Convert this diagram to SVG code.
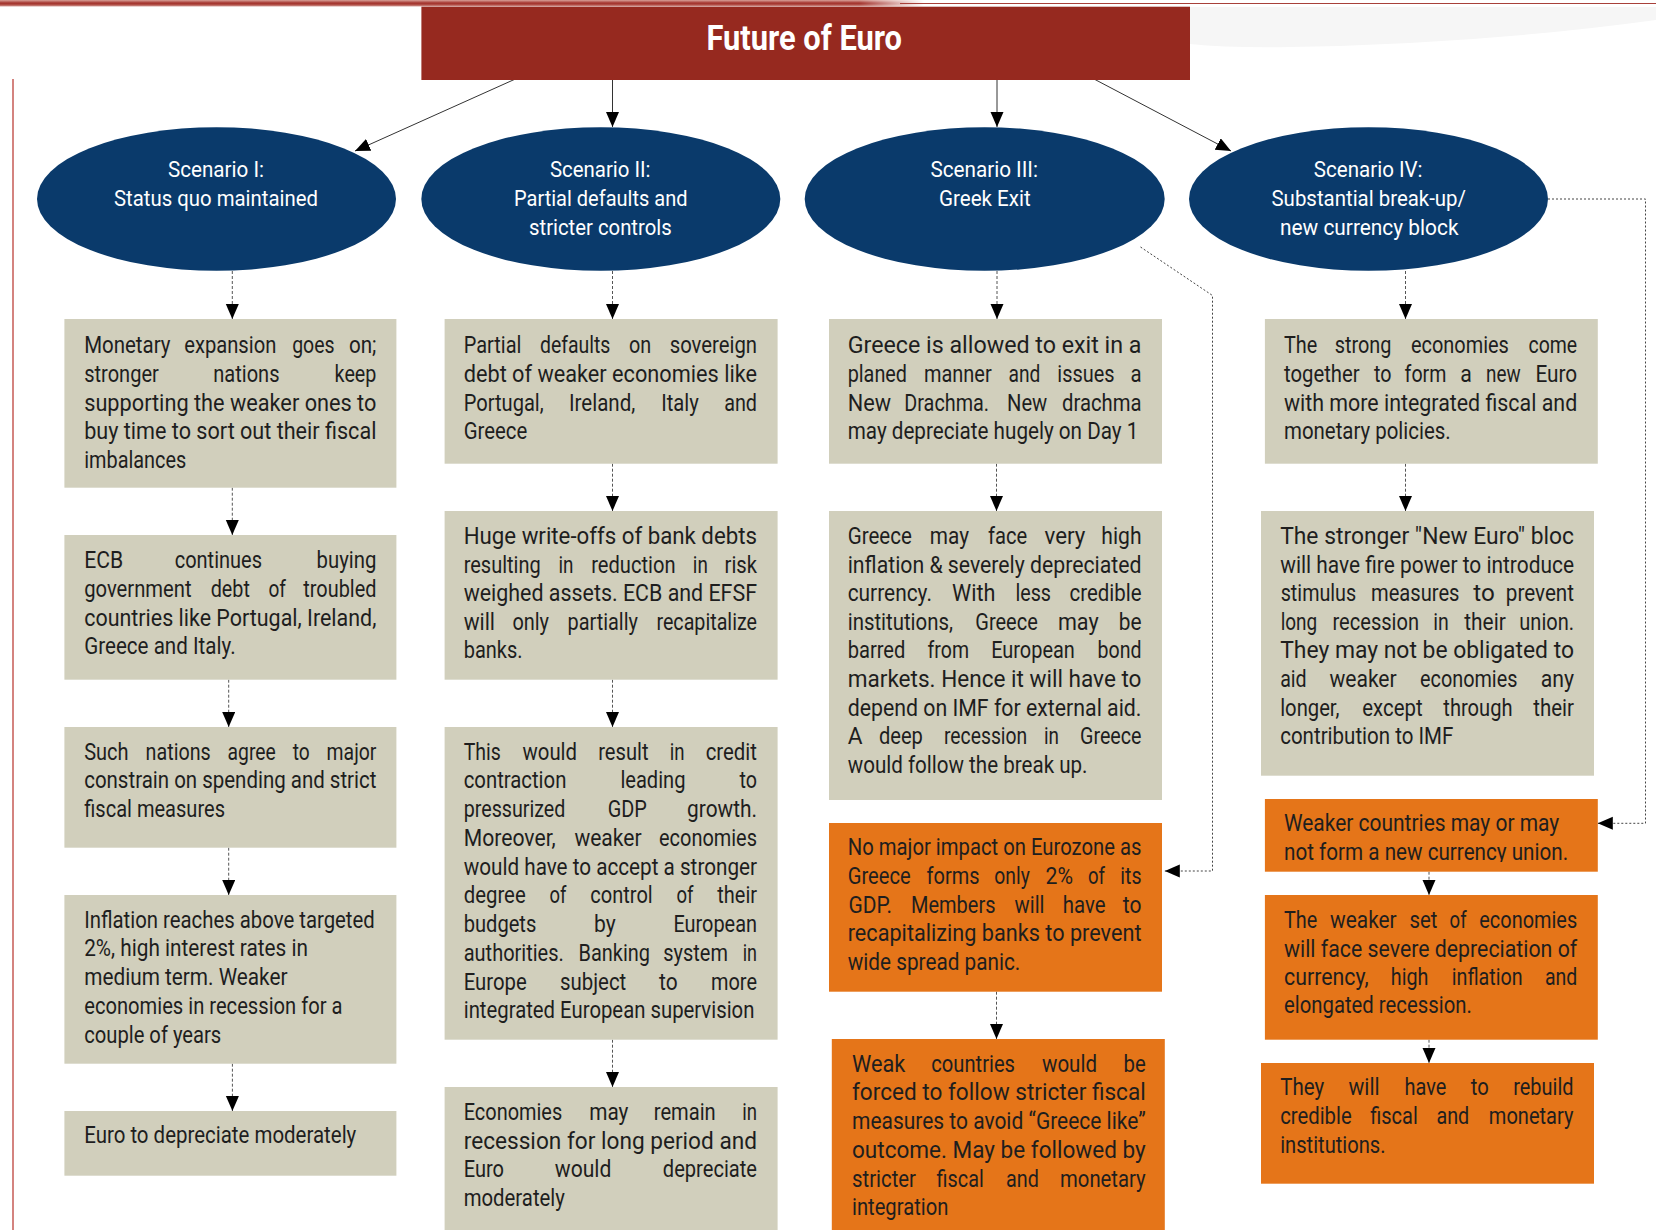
<svg xmlns="http://www.w3.org/2000/svg" width="1656" height="1230" viewBox="0 0 1656 1230">
<defs>
<style>
.bg{fill:#d1cfbc}
.bo{fill:#e57519}
.el{fill:#0a3a6b}
.tx{font-family:Roboto,"Liberation Sans",Arial,sans-serif;font-size:23.5px;fill:#1e1e1e}
.et{font-family:Roboto,"Liberation Sans",Arial,sans-serif;font-size:22px;fill:#ffffff}
.ti{font-family:Roboto,"Liberation Sans",Arial,sans-serif;font-size:35px;font-weight:bold;fill:#ffffff}
.solid{fill:none;stroke:#333;stroke-width:1}
.dash{fill:none;stroke:#555;stroke-width:1;stroke-dasharray:3 2}
.dot{fill:none;stroke:#444;stroke-width:1;stroke-dasharray:2 2}
</style>
<marker id="ah" markerUnits="userSpaceOnUse" markerWidth="16" markerHeight="14" refX="15" refY="6.5" orient="auto">
<path d="M0,0 L15,6.5 L0,13 Z" fill="#000"/>
</marker>
<linearGradient id="topbar" x1="0" y1="0" x2="0" y2="1">
<stop offset="0" stop-color="#d8a098"/>
<stop offset="0.45" stop-color="#a2302a"/>
<stop offset="0.75" stop-color="#b65a52"/>
<stop offset="1" stop-color="#ffffff"/>
</linearGradient>
<linearGradient id="barfade" x1="0" y1="0" x2="1" y2="0">
<stop offset="0" stop-color="#fff" stop-opacity="1"/>
<stop offset="0.93" stop-color="#fff" stop-opacity="1"/>
<stop offset="1" stop-color="#fff" stop-opacity="0"/>
</linearGradient>
<mask id="barmask"><rect x="0" y="0" width="924" height="8" fill="url(#barfade)"/></mask>
<clipPath id="clipB4c"><rect x="1265" y="800" width="333" height="62"/></clipPath>
</defs>

<!-- page decoration -->
<rect x="0" y="0" width="1656" height="1230" fill="#ffffff"/>
<path d="M1190,7 L1656,7 L1656,20 Q1480,44 1290,47 Q1230,48 1190,44 Z" fill="#f6f6f6"/>
<rect x="0" y="0" width="924" height="7" fill="url(#topbar)" mask="url(#barmask)"/>
<line x1="900" y1="3.5" x2="1656" y2="3.5" stroke="#a8403a" stroke-width="1.2"/>
<line x1="13" y1="79" x2="13" y2="1230" stroke="#c65a55" stroke-width="1.5"/>

<!-- connectors -->
<g id="connectors">
<path class="solid" d="M515.4,79 L355,151" marker-end="url(#ah)"/>
<path class="solid" d="M612.5,79 L612.5,127" marker-end="url(#ah)"/>
<path class="solid" d="M997,79 L997,127" marker-end="url(#ah)"/>
<path class="solid" d="M1094,79 L1231,151" marker-end="url(#ah)"/>
<path class="dash" d="M232.3,271 L232.3,319" marker-end="url(#ah)"/>
<path class="dash" d="M612.5,271 L612.5,319" marker-end="url(#ah)"/>
<path class="dash" d="M997,271 L997,319" marker-end="url(#ah)"/>
<path class="dash" d="M1405.5,271 L1405.5,319" marker-end="url(#ah)"/>
<path class="dash" d="M232.3,487.7 L232.3,535" marker-end="url(#ah)"/>
<path class="dash" d="M228.7,679.7 L228.7,727" marker-end="url(#ah)"/>
<path class="dash" d="M228.7,847.7 L228.7,895" marker-end="url(#ah)"/>
<path class="dash" d="M232.4,1063.7 L232.4,1111" marker-end="url(#ah)"/>
<path class="dash" d="M612.5,463.7 L612.5,511" marker-end="url(#ah)"/>
<path class="dash" d="M612.5,679.7 L612.5,727" marker-end="url(#ah)"/>
<path class="dash" d="M612.5,1039.7 L612.5,1087" marker-end="url(#ah)"/>
<path class="dash" d="M996.5,463.7 L996.5,511" marker-end="url(#ah)"/>
<path class="dash" d="M996.5,991.7 L996.5,1039" marker-end="url(#ah)"/>
<path class="dash" d="M1405.5,463.7 L1405.5,511" marker-end="url(#ah)"/>
<path class="dash" d="M1429,871.7 L1429,895" marker-end="url(#ah)"/>
<path class="dash" d="M1429,1039.7 L1429,1063" marker-end="url(#ah)"/>
<path class="dot" d="M1140.5,247 L1212.5,295.5 L1212.5,871 L1164.8,871" marker-end="url(#ah)"/>
<path class="dot" d="M1548,199 L1645.5,199 L1645.5,823.3 L1597.8,823.3" marker-end="url(#ah)"/>
</g>

<!-- title -->
<g id="title">
<rect x="421.4" y="6.7" width="768.6" height="73.3" fill="#96291f"/>
<text class="ti" x="706.4" y="50" textLength="195.6" lengthAdjust="spacingAndGlyphs">Future of Euro</text>
</g>

<!-- scenarios -->
<g id="scenario1">
<ellipse class="el" cx="216.5" cy="199" rx="179.5" ry="71.8"/>
<text class="et" x="168" y="177" textLength="96" lengthAdjust="spacingAndGlyphs">Scenario I:</text>
<text class="et" x="114" y="206" textLength="204" lengthAdjust="spacingAndGlyphs">Status quo maintained</text>
</g>
<g id="scenario2">
<ellipse class="el" cx="600.8" cy="199" rx="179.5" ry="71.8"/>
<text class="et" x="550" y="177" textLength="100.5" lengthAdjust="spacingAndGlyphs">Scenario II:</text>
<text class="et" x="514" y="206" textLength="173.5" lengthAdjust="spacingAndGlyphs">Partial defaults and</text>
<text class="et" x="529" y="235" textLength="142.7" lengthAdjust="spacingAndGlyphs">stricter controls</text>
</g>
<g id="scenario3">
<ellipse class="el" cx="984.7" cy="199" rx="180" ry="71.8"/>
<text class="et" x="930.4" y="177" textLength="107.6" lengthAdjust="spacingAndGlyphs">Scenario III:</text>
<text class="et" x="939" y="206" textLength="91.7" lengthAdjust="spacingAndGlyphs">Greek Exit</text>
</g>
<g id="scenario4">
<ellipse class="el" cx="1368.5" cy="199" rx="179.5" ry="71.8"/>
<text class="et" x="1313.8" y="177" textLength="108.8" lengthAdjust="spacingAndGlyphs">Scenario IV:</text>
<text class="et" x="1271.5" y="206" textLength="194.5" lengthAdjust="spacingAndGlyphs">Substantial break-up/</text>
<text class="et" x="1280" y="235" textLength="178.5" lengthAdjust="spacingAndGlyphs">new currency block</text>
</g>

<!-- column 1 -->
<g id="s1-step1">
<rect class="bg" x="64.4" y="319" width="332" height="168.7"/>
<text class="tx" x="84.2" y="353.3" textLength="86.3" lengthAdjust="spacingAndGlyphs">Monetary</text>
<text class="tx" x="184.2" y="353.3" textLength="92.1" lengthAdjust="spacingAndGlyphs">expansion</text>
<text class="tx" x="292.2" y="353.3" textLength="42.4" lengthAdjust="spacingAndGlyphs">goes</text>
<text class="tx" x="348.9" y="353.3" textLength="27.5" lengthAdjust="spacingAndGlyphs">on;</text>
<text class="tx" x="84.2" y="382" textLength="74.6" lengthAdjust="spacingAndGlyphs">stronger</text>
<text class="tx" x="213.3" y="382" textLength="66.2" lengthAdjust="spacingAndGlyphs">nations</text>
<text class="tx" x="334.6" y="382" textLength="41.8" lengthAdjust="spacingAndGlyphs">keep</text>
<text class="tx" x="84.2" y="410.6" textLength="292.2" lengthAdjust="spacingAndGlyphs">supporting the weaker ones to</text>
<text class="tx" x="84.2" y="439.2" textLength="292.2" lengthAdjust="spacingAndGlyphs">buy time to sort out their fiscal</text>
<text class="tx" x="84.2" y="467.8" textLength="102.1" lengthAdjust="spacingAndGlyphs">imbalances</text>
</g>
<g id="s1-step2">
<rect class="bg" x="64.4" y="535" width="332" height="144.7"/>
<text class="tx" x="84.2" y="568.3" textLength="39" lengthAdjust="spacingAndGlyphs">ECB</text>
<text class="tx" x="174.7" y="568.3" textLength="87.3" lengthAdjust="spacingAndGlyphs">continues</text>
<text class="tx" x="316.6" y="568.3" textLength="59.8" lengthAdjust="spacingAndGlyphs">buying</text>
<text class="tx" x="84.2" y="596.9" textLength="107.4" lengthAdjust="spacingAndGlyphs">government</text>
<text class="tx" x="210.7" y="596.9" textLength="39.2" lengthAdjust="spacingAndGlyphs">debt</text>
<text class="tx" x="268.4" y="596.9" textLength="17.5" lengthAdjust="spacingAndGlyphs">of</text>
<text class="tx" x="303.3" y="596.9" textLength="73.1" lengthAdjust="spacingAndGlyphs">troubled</text>
<text class="tx" x="84.2" y="625.5" textLength="292.2" lengthAdjust="spacingAndGlyphs">countries like Portugal, Ireland,</text>
<text class="tx" x="84.2" y="654.1" textLength="151.4" lengthAdjust="spacingAndGlyphs">Greece and Italy.</text>
</g>
<g id="s1-step3">
<rect class="bg" x="64.4" y="727" width="332" height="120.7"/>
<text class="tx" x="84.2" y="759.5" textLength="44.4" lengthAdjust="spacingAndGlyphs">Such</text>
<text class="tx" x="145.6" y="759.5" textLength="65.1" lengthAdjust="spacingAndGlyphs">nations</text>
<text class="tx" x="227.6" y="759.5" textLength="48.2" lengthAdjust="spacingAndGlyphs">agree</text>
<text class="tx" x="292.7" y="759.5" textLength="17" lengthAdjust="spacingAndGlyphs">to</text>
<text class="tx" x="326.6" y="759.5" textLength="49.8" lengthAdjust="spacingAndGlyphs">major</text>
<text class="tx" x="84.2" y="788.1" textLength="292.2" lengthAdjust="spacingAndGlyphs">constrain on spending and strict</text>
<text class="tx" x="84.2" y="816.7" textLength="140.8" lengthAdjust="spacingAndGlyphs">fiscal measures</text>
</g>
<g id="s1-step4">
<rect class="bg" x="64.4" y="895" width="332" height="168.7"/>
<text class="tx" x="84.2" y="927.7" textLength="290.6" lengthAdjust="spacingAndGlyphs">Inflation reaches above targeted</text>
<text class="tx" x="84.2" y="956.4" textLength="223.8" lengthAdjust="spacingAndGlyphs">2%, high interest rates in</text>
<text class="tx" x="84.2" y="985.2" textLength="203.3" lengthAdjust="spacingAndGlyphs">medium term. Weaker</text>
<text class="tx" x="84.2" y="1013.9" textLength="258.3" lengthAdjust="spacingAndGlyphs">economies in recession for a</text>
<text class="tx" x="84.2" y="1042.7" textLength="137.1" lengthAdjust="spacingAndGlyphs">couple of years</text>
</g>
<g id="s1-step5">
<rect class="bg" x="64.4" y="1111" width="332" height="64.7"/>
<text class="tx" x="84.2" y="1143.3" textLength="272.1" lengthAdjust="spacingAndGlyphs">Euro to depreciate moderately</text>
</g>

<!-- column 2 -->
<g id="s2-step1">
<rect class="bg" x="444.6" y="319" width="333" height="144.7"/>
<text class="tx" x="463.7" y="353.3" textLength="57.7" lengthAdjust="spacingAndGlyphs">Partial</text>
<text class="tx" x="540" y="353.3" textLength="70.4" lengthAdjust="spacingAndGlyphs">defaults</text>
<text class="tx" x="628.9" y="353.3" textLength="22.2" lengthAdjust="spacingAndGlyphs">on</text>
<text class="tx" x="669.7" y="353.3" textLength="87.3" lengthAdjust="spacingAndGlyphs">sovereign</text>
<text class="tx" x="463.7" y="381.9" textLength="293.3" lengthAdjust="spacingAndGlyphs">debt of weaker economies like</text>
<text class="tx" x="463.7" y="410.5" textLength="80" lengthAdjust="spacingAndGlyphs">Portugal,</text>
<text class="tx" x="569" y="410.5" textLength="66.3" lengthAdjust="spacingAndGlyphs">Ireland,</text>
<text class="tx" x="661.2" y="410.5" textLength="37.6" lengthAdjust="spacingAndGlyphs">Italy</text>
<text class="tx" x="724.2" y="410.5" textLength="32.8" lengthAdjust="spacingAndGlyphs">and</text>
<text class="tx" x="463.7" y="439.1" textLength="63.6" lengthAdjust="spacingAndGlyphs">Greece</text>
</g>
<g id="s2-step2">
<rect class="bg" x="444.6" y="511" width="333" height="168.7"/>
<text class="tx" x="463.7" y="544" textLength="293.3" lengthAdjust="spacingAndGlyphs">Huge write-offs of bank debts</text>
<text class="tx" x="463.7" y="572.6" textLength="77" lengthAdjust="spacingAndGlyphs">resulting</text>
<text class="tx" x="558.5" y="572.6" textLength="15" lengthAdjust="spacingAndGlyphs">in</text>
<text class="tx" x="591.2" y="572.6" textLength="84.3" lengthAdjust="spacingAndGlyphs">reduction</text>
<text class="tx" x="692.8" y="572.6" textLength="15" lengthAdjust="spacingAndGlyphs">in</text>
<text class="tx" x="724.6" y="572.6" textLength="32.4" lengthAdjust="spacingAndGlyphs">risk</text>
<text class="tx" x="463.7" y="601.2" textLength="293.3" lengthAdjust="spacingAndGlyphs">weighed assets. ECB and EFSF</text>
<text class="tx" x="463.7" y="629.8" textLength="31.3" lengthAdjust="spacingAndGlyphs">will</text>
<text class="tx" x="512.4" y="629.8" textLength="36.6" lengthAdjust="spacingAndGlyphs">only</text>
<text class="tx" x="567.5" y="629.8" textLength="70.4" lengthAdjust="spacingAndGlyphs">partially</text>
<text class="tx" x="656.4" y="629.8" textLength="100.6" lengthAdjust="spacingAndGlyphs">recapitalize</text>
<text class="tx" x="463.7" y="658.4" textLength="58.8" lengthAdjust="spacingAndGlyphs">banks.</text>
</g>
<g id="s2-step3">
<rect class="bg" x="444.6" y="727" width="333" height="312.7"/>
<text class="tx" x="463.7" y="759.5" textLength="37.1" lengthAdjust="spacingAndGlyphs">This</text>
<text class="tx" x="522.5" y="759.5" textLength="54.5" lengthAdjust="spacingAndGlyphs">would</text>
<text class="tx" x="598.2" y="759.5" textLength="50.3" lengthAdjust="spacingAndGlyphs">result</text>
<text class="tx" x="669.7" y="759.5" textLength="14.8" lengthAdjust="spacingAndGlyphs">in</text>
<text class="tx" x="705.7" y="759.5" textLength="51.3" lengthAdjust="spacingAndGlyphs">credit</text>
<text class="tx" x="463.7" y="788.25" textLength="102.7" lengthAdjust="spacingAndGlyphs">contraction</text>
<text class="tx" x="620.4" y="788.25" textLength="65.1" lengthAdjust="spacingAndGlyphs">leading</text>
<text class="tx" x="739.5" y="788.25" textLength="17.5" lengthAdjust="spacingAndGlyphs">to</text>
<text class="tx" x="463.7" y="817" textLength="101.7" lengthAdjust="spacingAndGlyphs">pressurized</text>
<text class="tx" x="607.7" y="817" textLength="39.2" lengthAdjust="spacingAndGlyphs">GDP</text>
<text class="tx" x="687.1" y="817" textLength="69.9" lengthAdjust="spacingAndGlyphs">growth.</text>
<text class="tx" x="463.7" y="845.75" textLength="92.1" lengthAdjust="spacingAndGlyphs">Moreover,</text>
<text class="tx" x="574.4" y="845.75" textLength="67.2" lengthAdjust="spacingAndGlyphs">weaker</text>
<text class="tx" x="659" y="845.75" textLength="98" lengthAdjust="spacingAndGlyphs">economies</text>
<text class="tx" x="463.7" y="874.5" textLength="293.3" lengthAdjust="spacingAndGlyphs">would have to accept a stronger</text>
<text class="tx" x="463.7" y="903.25" textLength="62" lengthAdjust="spacingAndGlyphs">degree</text>
<text class="tx" x="549.5" y="903.25" textLength="16.9" lengthAdjust="spacingAndGlyphs">of</text>
<text class="tx" x="590.3" y="903.25" textLength="62.4" lengthAdjust="spacingAndGlyphs">control</text>
<text class="tx" x="676.5" y="903.25" textLength="17" lengthAdjust="spacingAndGlyphs">of</text>
<text class="tx" x="717.3" y="903.25" textLength="39.7" lengthAdjust="spacingAndGlyphs">their</text>
<text class="tx" x="463.7" y="932" textLength="72.6" lengthAdjust="spacingAndGlyphs">budgets</text>
<text class="tx" x="594" y="932" textLength="21.7" lengthAdjust="spacingAndGlyphs">by</text>
<text class="tx" x="673.4" y="932" textLength="83.6" lengthAdjust="spacingAndGlyphs">European</text>
<text class="tx" x="463.7" y="960.75" textLength="100.1" lengthAdjust="spacingAndGlyphs">authorities.</text>
<text class="tx" x="578.6" y="960.75" textLength="71.4" lengthAdjust="spacingAndGlyphs">Banking</text>
<text class="tx" x="663.3" y="960.75" textLength="64.6" lengthAdjust="spacingAndGlyphs">system</text>
<text class="tx" x="742.7" y="960.75" textLength="14.3" lengthAdjust="spacingAndGlyphs">in</text>
<text class="tx" x="463.7" y="989.5" textLength="63" lengthAdjust="spacingAndGlyphs">Europe</text>
<text class="tx" x="560" y="989.5" textLength="66.3" lengthAdjust="spacingAndGlyphs">subject</text>
<text class="tx" x="659" y="989.5" textLength="18.6" lengthAdjust="spacingAndGlyphs">to</text>
<text class="tx" x="711" y="989.5" textLength="46" lengthAdjust="spacingAndGlyphs">more</text>
<text class="tx" x="463.7" y="1018.25" textLength="290.7" lengthAdjust="spacingAndGlyphs">integrated European supervision</text>
</g>
<g id="s2-step4">
<rect class="bg" x="444.6" y="1087" width="333" height="143"/>
<text class="tx" x="463.7" y="1120" textLength="98.5" lengthAdjust="spacingAndGlyphs">Economies</text>
<text class="tx" x="589.2" y="1120" textLength="39.2" lengthAdjust="spacingAndGlyphs">may</text>
<text class="tx" x="653.8" y="1120" textLength="61.9" lengthAdjust="spacingAndGlyphs">remain</text>
<text class="tx" x="742.2" y="1120" textLength="14.8" lengthAdjust="spacingAndGlyphs">in</text>
<text class="tx" x="463.7" y="1148.7" textLength="293.3" lengthAdjust="spacingAndGlyphs">recession for long period and</text>
<text class="tx" x="463.7" y="1177.4" textLength="40.3" lengthAdjust="spacingAndGlyphs">Euro</text>
<text class="tx" x="554.8" y="1177.4" textLength="56.6" lengthAdjust="spacingAndGlyphs">would</text>
<text class="tx" x="662.8" y="1177.4" textLength="94.2" lengthAdjust="spacingAndGlyphs">depreciate</text>
<text class="tx" x="463.7" y="1206.1" textLength="101.2" lengthAdjust="spacingAndGlyphs">moderately</text>
</g>

<!-- column 3 -->
<g id="s3-step1">
<rect class="bg" x="829" y="319" width="333" height="144.7"/>
<text class="tx" x="847.7" y="353.3" textLength="293.8" lengthAdjust="spacingAndGlyphs">Greece is allowed to exit in a</text>
<text class="tx" x="847.7" y="381.9" textLength="59.3" lengthAdjust="spacingAndGlyphs">planed</text>
<text class="tx" x="924" y="381.9" textLength="67.7" lengthAdjust="spacingAndGlyphs">manner</text>
<text class="tx" x="1008.6" y="381.9" textLength="31.8" lengthAdjust="spacingAndGlyphs">and</text>
<text class="tx" x="1057.3" y="381.9" textLength="57.2" lengthAdjust="spacingAndGlyphs">issues</text>
<text class="tx" x="1130.4" y="381.9" textLength="11.1" lengthAdjust="spacingAndGlyphs">a</text>
<text class="tx" x="847.7" y="410.5" textLength="43.3" lengthAdjust="spacingAndGlyphs">New</text>
<text class="tx" x="904.3" y="410.5" textLength="84.7" lengthAdjust="spacingAndGlyphs">Drachma.</text>
<text class="tx" x="1007" y="410.5" textLength="40.3" lengthAdjust="spacingAndGlyphs">New</text>
<text class="tx" x="1062" y="410.5" textLength="79.5" lengthAdjust="spacingAndGlyphs">drachma</text>
<text class="tx" x="847.7" y="439.1" textLength="290.6" lengthAdjust="spacingAndGlyphs">may depreciate hugely on Day 1</text>
</g>
<g id="s3-step2">
<rect class="bg" x="829" y="511" width="333" height="289"/>
<text class="tx" x="847.7" y="544" textLength="64.1" lengthAdjust="spacingAndGlyphs">Greece</text>
<text class="tx" x="929.8" y="544" textLength="39.2" lengthAdjust="spacingAndGlyphs">may</text>
<text class="tx" x="988" y="544" textLength="39.2" lengthAdjust="spacingAndGlyphs">face</text>
<text class="tx" x="1044.6" y="544" textLength="40.8" lengthAdjust="spacingAndGlyphs">very</text>
<text class="tx" x="1101.3" y="544" textLength="40.2" lengthAdjust="spacingAndGlyphs">high</text>
<text class="tx" x="847.7" y="572.6" textLength="293.8" lengthAdjust="spacingAndGlyphs">inflation &amp; severely depreciated</text>
<text class="tx" x="847.7" y="601.2" textLength="84.2" lengthAdjust="spacingAndGlyphs">currency.</text>
<text class="tx" x="952" y="601.2" textLength="43.4" lengthAdjust="spacingAndGlyphs">With</text>
<text class="tx" x="1015.5" y="601.2" textLength="35.5" lengthAdjust="spacingAndGlyphs">less</text>
<text class="tx" x="1069.5" y="601.2" textLength="72" lengthAdjust="spacingAndGlyphs">credible</text>
<text class="tx" x="847.7" y="629.8" textLength="105.3" lengthAdjust="spacingAndGlyphs">institutions,</text>
<text class="tx" x="975.3" y="629.8" textLength="62.5" lengthAdjust="spacingAndGlyphs">Greece</text>
<text class="tx" x="1057.9" y="629.8" textLength="40.7" lengthAdjust="spacingAndGlyphs">may</text>
<text class="tx" x="1118.7" y="629.8" textLength="22.8" lengthAdjust="spacingAndGlyphs">be</text>
<text class="tx" x="847.7" y="658.4" textLength="57.7" lengthAdjust="spacingAndGlyphs">barred</text>
<text class="tx" x="927.6" y="658.4" textLength="41.4" lengthAdjust="spacingAndGlyphs">from</text>
<text class="tx" x="991.2" y="658.4" textLength="83.6" lengthAdjust="spacingAndGlyphs">European</text>
<text class="tx" x="1097.6" y="658.4" textLength="43.9" lengthAdjust="spacingAndGlyphs">bond</text>
<text class="tx" x="847.7" y="687" textLength="293.8" lengthAdjust="spacingAndGlyphs">markets. Hence it will have to</text>
<text class="tx" x="847.7" y="715.6" textLength="293.8" lengthAdjust="spacingAndGlyphs">depend on IMF for external aid.</text>
<text class="tx" x="847.7" y="744.2" textLength="14.8" lengthAdjust="spacingAndGlyphs">A</text>
<text class="tx" x="879" y="744.2" textLength="43.9" lengthAdjust="spacingAndGlyphs">deep</text>
<text class="tx" x="944" y="744.2" textLength="83.2" lengthAdjust="spacingAndGlyphs">recession</text>
<text class="tx" x="1044" y="744.2" textLength="15" lengthAdjust="spacingAndGlyphs">in</text>
<text class="tx" x="1080" y="744.2" textLength="61.5" lengthAdjust="spacingAndGlyphs">Greece</text>
<text class="tx" x="847.7" y="772.8" textLength="239.8" lengthAdjust="spacingAndGlyphs">would follow the break up.</text>
</g>
<g id="s3-step3">
<rect class="bo" x="829" y="823" width="333" height="168.7"/>
<text class="tx" x="847.7" y="855" textLength="293.8" lengthAdjust="spacingAndGlyphs">No major impact on Eurozone as</text>
<text class="tx" x="847.7" y="883.75" textLength="63" lengthAdjust="spacingAndGlyphs">Greece</text>
<text class="tx" x="926.6" y="883.75" textLength="52.9" lengthAdjust="spacingAndGlyphs">forms</text>
<text class="tx" x="994.3" y="883.75" textLength="35.5" lengthAdjust="spacingAndGlyphs">only</text>
<text class="tx" x="1045.5" y="883.75" textLength="27.5" lengthAdjust="spacingAndGlyphs">2%</text>
<text class="tx" x="1088" y="883.75" textLength="17" lengthAdjust="spacingAndGlyphs">of</text>
<text class="tx" x="1120.3" y="883.75" textLength="21.2" lengthAdjust="spacingAndGlyphs">its</text>
<text class="tx" x="848.5" y="912.5" textLength="43.5" lengthAdjust="spacingAndGlyphs">GDP.</text>
<text class="tx" x="911" y="912.5" textLength="84.5" lengthAdjust="spacingAndGlyphs">Members</text>
<text class="tx" x="1014.5" y="912.5" textLength="30" lengthAdjust="spacingAndGlyphs">will</text>
<text class="tx" x="1062.8" y="912.5" textLength="42.8" lengthAdjust="spacingAndGlyphs">have</text>
<text class="tx" x="1122.8" y="912.5" textLength="18.7" lengthAdjust="spacingAndGlyphs">to</text>
<text class="tx" x="847.7" y="941.25" textLength="293.8" lengthAdjust="spacingAndGlyphs">recapitalizing banks to prevent</text>
<text class="tx" x="847.7" y="970" textLength="172.6" lengthAdjust="spacingAndGlyphs">wide spread panic.</text>
</g>
<g id="s3-step4">
<rect class="bo" x="831.8" y="1039" width="333" height="191"/>
<text class="tx" x="852" y="1071.7" textLength="53.4" lengthAdjust="spacingAndGlyphs">Weak</text>
<text class="tx" x="931.3" y="1071.7" textLength="83.7" lengthAdjust="spacingAndGlyphs">countries</text>
<text class="tx" x="1042" y="1071.7" textLength="55" lengthAdjust="spacingAndGlyphs">would</text>
<text class="tx" x="1123.5" y="1071.7" textLength="22.2" lengthAdjust="spacingAndGlyphs">be</text>
<text class="tx" x="852" y="1100.4" textLength="293.7" lengthAdjust="spacingAndGlyphs">forced to follow stricter fiscal</text>
<text class="tx" x="852" y="1129.1" textLength="293.7" lengthAdjust="spacingAndGlyphs">measures to avoid “Greece like”</text>
<text class="tx" x="852" y="1157.8" textLength="293.7" lengthAdjust="spacingAndGlyphs">outcome. May be followed by</text>
<text class="tx" x="852" y="1186.5" textLength="64" lengthAdjust="spacingAndGlyphs">stricter</text>
<text class="tx" x="936.6" y="1186.5" textLength="47.2" lengthAdjust="spacingAndGlyphs">fiscal</text>
<text class="tx" x="1006" y="1186.5" textLength="32.8" lengthAdjust="spacingAndGlyphs">and</text>
<text class="tx" x="1060" y="1186.5" textLength="85.7" lengthAdjust="spacingAndGlyphs">monetary</text>
<text class="tx" x="852" y="1215.2" textLength="96.3" lengthAdjust="spacingAndGlyphs">integration</text>
</g>

<!-- column 4 -->
<g id="s4-step1">
<rect class="bg" x="1264.9" y="319" width="332.9" height="144.7"/>
<text class="tx" x="1284" y="353.3" textLength="33.3" lengthAdjust="spacingAndGlyphs">The</text>
<text class="tx" x="1334.7" y="353.3" textLength="56.7" lengthAdjust="spacingAndGlyphs">strong</text>
<text class="tx" x="1411" y="353.3" textLength="97.9" lengthAdjust="spacingAndGlyphs">economies</text>
<text class="tx" x="1528.5" y="353.3" textLength="48.7" lengthAdjust="spacingAndGlyphs">come</text>
<text class="tx" x="1284" y="381.9" textLength="75.6" lengthAdjust="spacingAndGlyphs">together</text>
<text class="tx" x="1373.9" y="381.9" textLength="17.5" lengthAdjust="spacingAndGlyphs">to</text>
<text class="tx" x="1404.6" y="381.9" textLength="41.8" lengthAdjust="spacingAndGlyphs">form</text>
<text class="tx" x="1460.2" y="381.9" textLength="11.6" lengthAdjust="spacingAndGlyphs">a</text>
<text class="tx" x="1486" y="381.9" textLength="34.6" lengthAdjust="spacingAndGlyphs">new</text>
<text class="tx" x="1535.4" y="381.9" textLength="41.8" lengthAdjust="spacingAndGlyphs">Euro</text>
<text class="tx" x="1284" y="410.5" textLength="293.2" lengthAdjust="spacingAndGlyphs">with more integrated fiscal and</text>
<text class="tx" x="1284" y="439.1" textLength="166.7" lengthAdjust="spacingAndGlyphs">monetary policies.</text>
</g>
<g id="s4-step2">
<rect class="bg" x="1261" y="511" width="333" height="264.7"/>
<text class="tx" x="1280.2" y="544" textLength="293.8" lengthAdjust="spacingAndGlyphs">The stronger "New Euro" bloc</text>
<text class="tx" x="1280.2" y="572.6" textLength="293.8" lengthAdjust="spacingAndGlyphs">will have fire power to introduce</text>
<text class="tx" x="1280.7" y="601.2" textLength="75.5" lengthAdjust="spacingAndGlyphs">stimulus</text>
<text class="tx" x="1371" y="601.2" textLength="88.5" lengthAdjust="spacingAndGlyphs">measures</text>
<text class="tx" x="1473.3" y="601.2" textLength="21.5" lengthAdjust="spacingAndGlyphs">to</text>
<text class="tx" x="1505.8" y="601.2" textLength="68.2" lengthAdjust="spacingAndGlyphs">prevent</text>
<text class="tx" x="1280.7" y="629.8" textLength="36.5" lengthAdjust="spacingAndGlyphs">long</text>
<text class="tx" x="1332.5" y="629.8" textLength="86.5" lengthAdjust="spacingAndGlyphs">recession</text>
<text class="tx" x="1433.3" y="629.8" textLength="15.5" lengthAdjust="spacingAndGlyphs">in</text>
<text class="tx" x="1464.3" y="629.8" textLength="41.5" lengthAdjust="spacingAndGlyphs">their</text>
<text class="tx" x="1519.3" y="629.8" textLength="54.7" lengthAdjust="spacingAndGlyphs">union.</text>
<text class="tx" x="1280.2" y="658.4" textLength="293.8" lengthAdjust="spacingAndGlyphs">They may not be obligated to</text>
<text class="tx" x="1280.2" y="687" textLength="26.5" lengthAdjust="spacingAndGlyphs">aid</text>
<text class="tx" x="1329.4" y="687" textLength="67.3" lengthAdjust="spacingAndGlyphs">weaker</text>
<text class="tx" x="1420" y="687" textLength="97.4" lengthAdjust="spacingAndGlyphs">economies</text>
<text class="tx" x="1540.7" y="687" textLength="33.3" lengthAdjust="spacingAndGlyphs">any</text>
<text class="tx" x="1280.2" y="715.6" textLength="59.3" lengthAdjust="spacingAndGlyphs">longer,</text>
<text class="tx" x="1362.3" y="715.6" textLength="60.3" lengthAdjust="spacingAndGlyphs">except</text>
<text class="tx" x="1443.3" y="715.6" textLength="69.3" lengthAdjust="spacingAndGlyphs">through</text>
<text class="tx" x="1533.3" y="715.6" textLength="40.7" lengthAdjust="spacingAndGlyphs">their</text>
<text class="tx" x="1280.2" y="744.2" textLength="173.1" lengthAdjust="spacingAndGlyphs">contribution to IMF</text>
</g>
<g id="s4-step3">
<rect class="bo" x="1264.9" y="799" width="332.9" height="72.7"/>
<g clip-path="url(#clipB4c)">
<text class="tx" x="1284" y="830.7" textLength="275.2" lengthAdjust="spacingAndGlyphs">Weaker countries may or may</text>
<text class="tx" x="1284" y="860" textLength="284.2" lengthAdjust="spacingAndGlyphs">not form a new currency union.</text>
</g>
</g>
<g id="s4-step4">
<rect class="bo" x="1264.9" y="895" width="332.9" height="144.7"/>
<text class="tx" x="1284" y="928.3" textLength="33.3" lengthAdjust="spacingAndGlyphs">The</text>
<text class="tx" x="1330" y="928.3" textLength="66.7" lengthAdjust="spacingAndGlyphs">weaker</text>
<text class="tx" x="1409.4" y="928.3" textLength="28" lengthAdjust="spacingAndGlyphs">set</text>
<text class="tx" x="1449.6" y="928.3" textLength="17" lengthAdjust="spacingAndGlyphs">of</text>
<text class="tx" x="1479.3" y="928.3" textLength="97.9" lengthAdjust="spacingAndGlyphs">economies</text>
<text class="tx" x="1284" y="956.6" textLength="293.2" lengthAdjust="spacingAndGlyphs">will face severe depreciation of</text>
<text class="tx" x="1284" y="985" textLength="84.6" lengthAdjust="spacingAndGlyphs">currency,</text>
<text class="tx" x="1390.8" y="985" textLength="37.6" lengthAdjust="spacingAndGlyphs">high</text>
<text class="tx" x="1451.7" y="985" textLength="71" lengthAdjust="spacingAndGlyphs">inflation</text>
<text class="tx" x="1544.9" y="985" textLength="32.3" lengthAdjust="spacingAndGlyphs">and</text>
<text class="tx" x="1284" y="1013.3" textLength="187.8" lengthAdjust="spacingAndGlyphs">elongated recession.</text>
</g>
<g id="s4-step5">
<rect class="bo" x="1261" y="1063" width="333" height="120.7"/>
<text class="tx" x="1280.2" y="1095" textLength="44" lengthAdjust="spacingAndGlyphs">They</text>
<text class="tx" x="1348.5" y="1095" textLength="31.2" lengthAdjust="spacingAndGlyphs">will</text>
<text class="tx" x="1404.6" y="1095" textLength="41.8" lengthAdjust="spacingAndGlyphs">have</text>
<text class="tx" x="1470.8" y="1095" textLength="18" lengthAdjust="spacingAndGlyphs">to</text>
<text class="tx" x="1513.2" y="1095" textLength="60.3" lengthAdjust="spacingAndGlyphs">rebuild</text>
<text class="tx" x="1280.2" y="1124" textLength="71.5" lengthAdjust="spacingAndGlyphs">credible</text>
<text class="tx" x="1370.2" y="1124" textLength="47.6" lengthAdjust="spacingAndGlyphs">fiscal</text>
<text class="tx" x="1436.4" y="1124" textLength="32.8" lengthAdjust="spacingAndGlyphs">and</text>
<text class="tx" x="1488.8" y="1124" textLength="84.7" lengthAdjust="spacingAndGlyphs">monetary</text>
<text class="tx" x="1280.2" y="1153" textLength="105.4" lengthAdjust="spacingAndGlyphs">institutions.</text>
</g>
</svg>
